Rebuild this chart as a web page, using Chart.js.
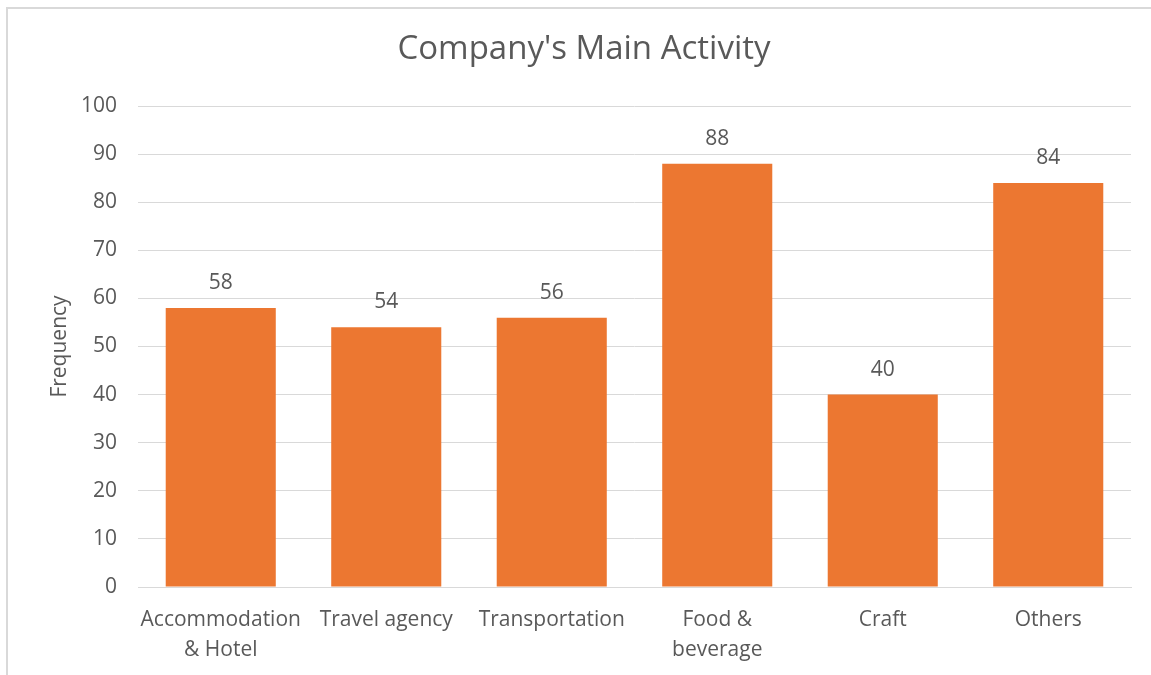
<!DOCTYPE html>
<html>
<head>
<meta charset="utf-8">
<script src="https://cdn.jsdelivr.net/npm/chart.js@4/dist/chart.umd.min.js"></script>
<style>
html,body{margin:0;padding:0;background:#fff;}
#wrap{position:relative;width:1151px;height:675px;overflow:hidden;}
#frame{position:absolute;left:6px;top:7px;width:1160px;height:700px;border-left:2px solid #d9d9d9;border-top:2px solid #d9d9d9;box-sizing:border-box;}
canvas{position:absolute;left:0;top:0;}
</style>
</head>
<body>
<div id="wrap">
<div id="frame"></div>
<canvas id="c" width="1151" height="675"></canvas>
</div>
<script>
const categories = [["Accommodation","& Hotel"],["Travel agency"],["Transportation"],["Food &","beverage"],["Craft"],["Others"]];
const frequency = [58, 54, 56, 88, 40, 84];
const chartTitle = "Company's Main Activity";
const yAxisTitle = "Frequency";

const FONT = "'Open Sans', 'Noto Sans', sans-serif";
const TXT = '#595959';

const titlePlugin = {
  id: 'titleText',
  afterDraw(chart) {
    const ctx = chart.ctx;
    ctx.save();
    ctx.fillStyle = TXT;
    ctx.font = "33px " + FONT;
    ctx.textAlign = 'center';
    ctx.textBaseline = 'middle';
    ctx.fillText(chartTitle, 584, 50);
    ctx.restore();
  }
};

const labelPlugin = {
  id: 'valueLabels',
  afterDatasetsDraw(chart) {
    const ctx = chart.ctx;
    const meta = chart.getDatasetMeta(0);
    ctx.save();
    ctx.fillStyle = TXT;
    ctx.font = "21px " + FONT;
    ctx.textAlign = 'center';
    ctx.textBaseline = 'middle';
    meta.data.forEach((bar, i) => {
      ctx.fillText(String(frequency[i]), bar.x, bar.y - 25);
    });
    ctx.restore();
  }
};

new Chart(document.getElementById('c'), {
  type: 'bar',
  data: {
    labels: categories,
    datasets: [{
      data: frequency,
      backgroundColor: '#EC7731',
      borderWidth: 0,
      barPercentage: 0.665,
      categoryPercentage: 1.0
    }]
  },
  options: {
    responsive: false,
    animation: false,
    layout: { padding: { left: 0, right: 20, top: 106, bottom: 0 } },
    plugins: { legend: { display: false }, tooltip: { enabled: false }, title: { display: false } },
    scales: {
      x: {
        grid: { display: false, drawTicks: false },
        border: { display: true, color: '#d9d9d9', width: 1 },
        ticks: { color: TXT, font: { family: FONT, size: 21, lineHeight: 1.43 }, padding: 18, maxRotation: 0, autoSkip: false },
        afterFit(scale) { scale.height = 88; }
      },
      y: {
        min: 0, max: 100,
        grid: { color: '#d9d9d9', lineWidth: 1, drawTicks: false },
        border: { display: false },
        ticks: { stepSize: 10, color: TXT, font: { family: FONT, size: 21 }, padding: 21 },
        title: { display: true, text: yAxisTitle, color: TXT, font: { family: FONT, size: 21 }, padding: { top: 47, bottom: 0 } },
        afterFit(scale) { scale.width = 138; }
      }
    }
  },
  plugins: [titlePlugin, labelPlugin]
});
</script>
</body>
</html>
